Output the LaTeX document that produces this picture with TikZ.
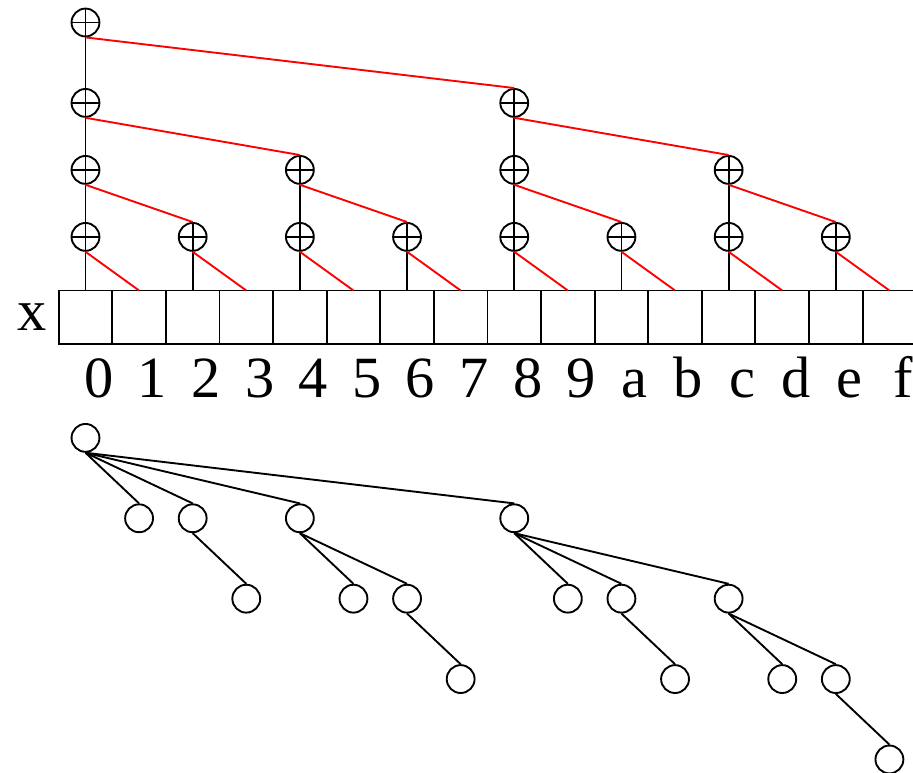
\documentclass[tikz,border=0pt]{standalone}
\usepackage{fontspec}
\setmainfont{Liberation Serif}
\usetikzlibrary{positioning}

\begin{document}
\begin{tikzpicture}[x=1cm, y=1cm, line width=1pt,
	cell/.style={draw, minimum size=1cm, inner sep=0pt, outer sep=0pt},
	xorop/.style={circle, draw, minimum size=0.52cm, inner sep=0pt,
		path picture={\draw (path picture bounding box.north) -- (path picture bounding box.south)
			(path picture bounding box.west) -- (path picture bounding box.east);}},
	leaf/.style={circle, draw, minimum size=0.52cm, inner sep=0pt},
	idx/.style={inner sep=0pt, font=\fontsize{31}{36}\selectfont},
	sumline/.style={red}]
	
	\useasboundingbox (-1.095,-9.0) rectangle (15.94,5.42);
	
	% --- ARRAY x ---
	\foreach \i/\l in {0/0,1/1,2/2,3/3,4/4,5/5,6/6,7/7,8/8,9/9,10/a,11/b,12/c,13/d,14/e,15/f} {
		\node[cell] (cell\i) at (\i+0.5,-0.5) {};
		\node[idx, anchor=base] (lab\i) at (\i+0.75,-2) {\l};
	}
	\node[idx, left=0.21cm of cell0] (xname) {x};
	
	% --- SUM TREE (top) ---
	\foreach \i in {0,2,...,14} \node[xorop] (s1-\i) at (\i+0.5,1) {};
	\foreach \i in {0,4,8,12} \node[xorop] (s2-\i) at (\i+0.5,2.25) {};
	\foreach \i in {0,8} \node[xorop] (s3-\i) at (\i+0.5,3.5) {};
	\node[xorop] (s4-0) at (0.5,5) {};
	
	\foreach \i [evaluate=\i as \j using int(\i+1)] in {0,2,...,14} {
		\draw (s1-\i.south) -- (cell\i.north);
		\draw[sumline] (s1-\i.south) -- (cell\j.north);
	}
	\foreach \i [evaluate=\i as \j using int(\i+2)] in {0,4,8,12} {
		\draw (s2-\i.south) -- (s1-\i.north);
		\draw[sumline] (s2-\i.south) -- (s1-\j.north);
	}
	\foreach \i [evaluate=\i as \j using int(\i+4)] in {0,8} {
		\draw (s3-\i.south) -- (s2-\i.north);
		\draw[sumline] (s3-\i.south) -- (s2-\j.north);
	}
	\draw (s4-0.south) -- (s3-0.north);
	\draw[sumline] (s4-0.south) -- (s3-8.north);
	
	% --- BINOMIAL TREE (bottom) ---
	\foreach \i/\r in {0/0,1/1,2/1,3/2,4/1,5/2,6/2,7/3,8/1,9/2,10/2,11/3,12/2,13/3,14/3,15/4}
		\node[leaf] (t\i) at (\i+0.5,{-2.75-1.5*\r}) {};
	\foreach \c/\p in {1/0,2/0,4/0,8/0,3/2,5/4,6/4,7/6,9/8,10/8,12/8,11/10,13/12,14/12,15/14}
		\draw (t\p.south) -- (t\c.north);
	
\end{tikzpicture}
\end{document}
